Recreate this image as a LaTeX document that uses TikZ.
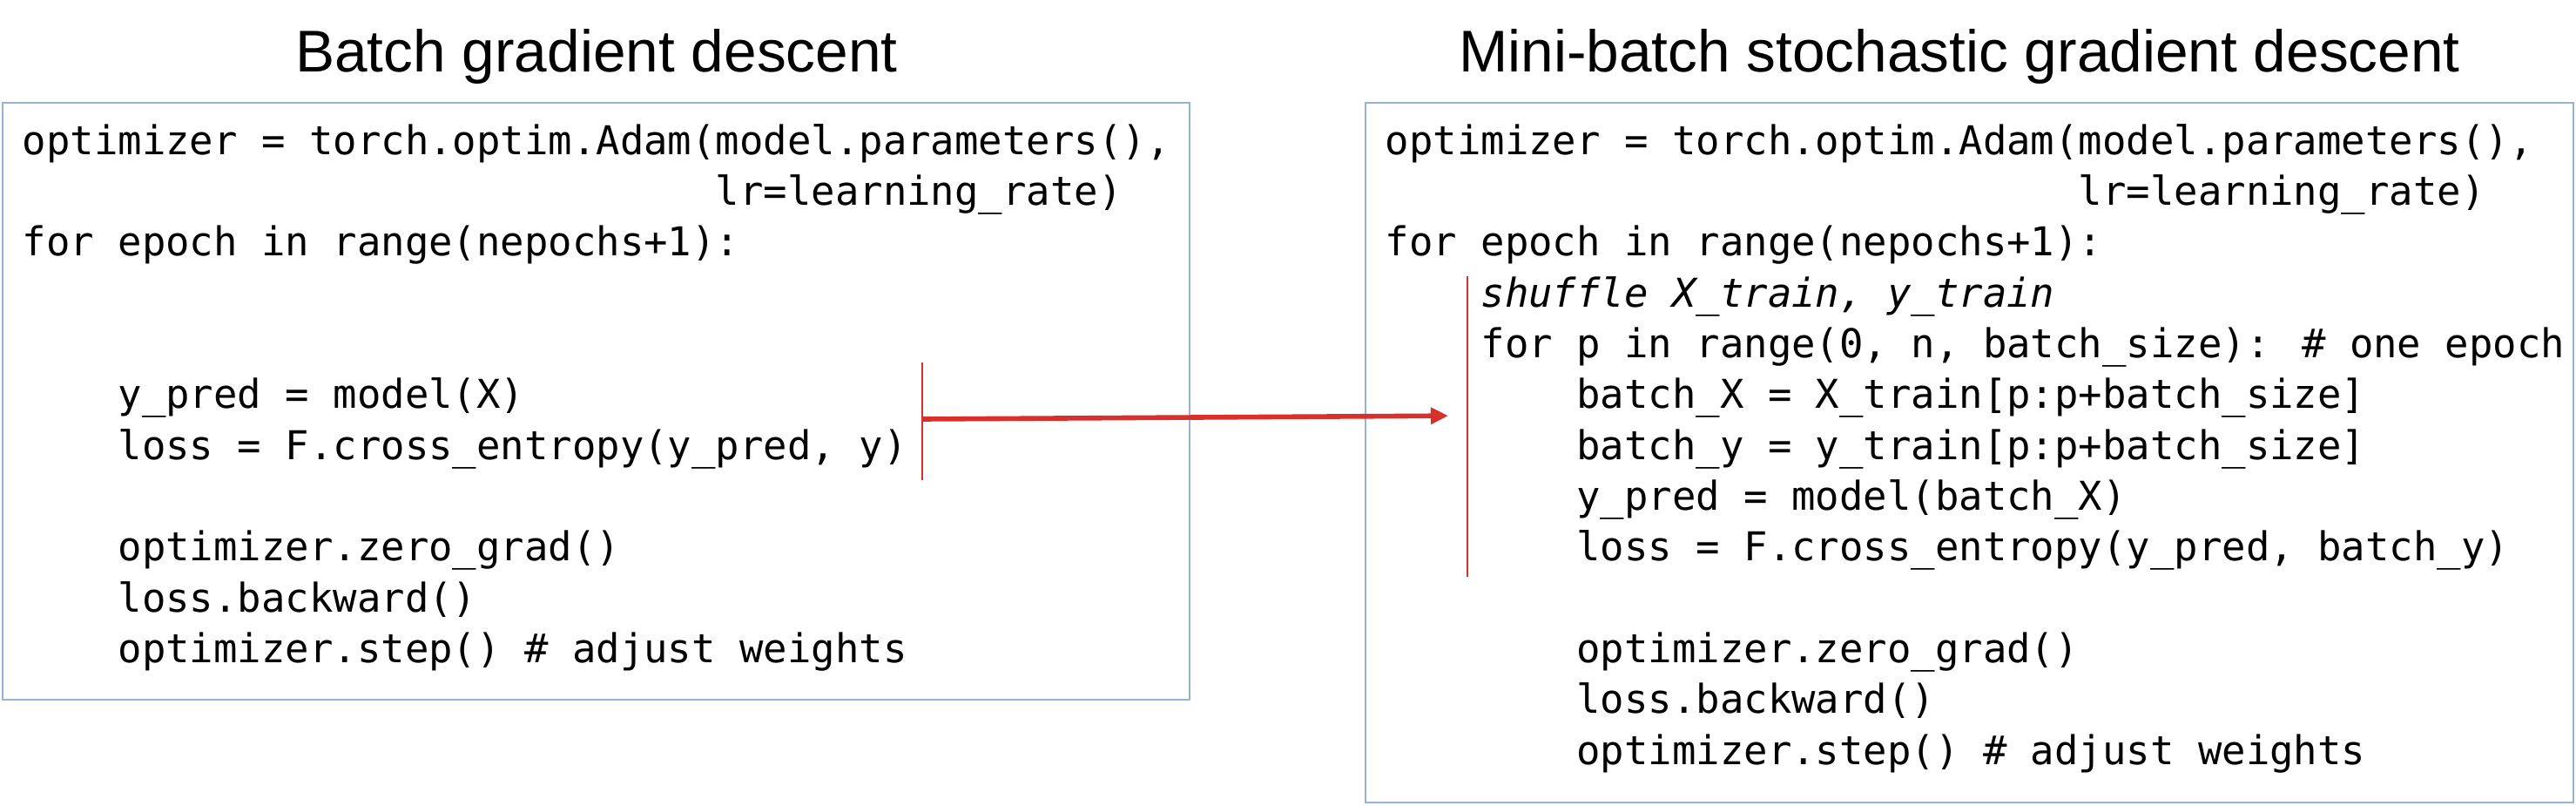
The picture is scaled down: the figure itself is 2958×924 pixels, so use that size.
\documentclass[tikz,border=0pt]{standalone}
\usepackage{fontspec}
\newfontfamily\codefont{DejaVu Sans Mono}
\newfontfamily\headfont{Liberation Sans}
\usetikzlibrary{arrows.meta}

\definecolor{boxblue}{HTML}{95B3D7}
\definecolor{markred}{HTML}{D8302A}
\newcommand{\cw}{27.45} % width of one code character

\tikzset{
  codeline/.style={anchor=base west,inner sep=0pt,
    font=\codefont\fontsize{11.4}{14}\selectfont},
  heading/.style={anchor=base,inner sep=0pt,
    font=\headfont\fontsize{16.9}{20}\selectfont},
  codebox/.style={draw=boxblue,line width=0.5pt},
  markbar/.style={draw=markred,line width=0.6pt},
}

\begin{document}
\begin{tikzpicture}[x=0.25pt,y=-0.25pt]
	\useasboundingbox (0,0) rectangle (2958,924);

	%% Corners of the two code boxes
	\coordinate (A1) at (3,118);    % batch, top left
	\coordinate (A2) at (1366,803); % batch, bottom right
	\coordinate (A3) at (1568,118); % mini-batch, top left
	\coordinate (A4) at (2955,921); % mini-batch, bottom right

	%% Boxes and titles
	\draw[codebox] (A1) rectangle (A2);
	\draw[codebox] (A3) rectangle (A4);
	\node[heading] (T1) at (685,82) {Batch gradient descent};
	\node[heading] (T2) at (2250,82) {Mini-batch stochastic gradient descent};

	%% Left code
	\node[codeline] (B1) at (25,177) {optimizer = torch.optim.Adam(model.parameters(),};
	\node[codeline] (B2) at (25+29*\cw,235) {lr=learning\_rate)};
	\node[codeline] (B3) at (25,293) {for epoch in range(nepochs+1):};
	\node[codeline] (B4) at (25+4*\cw,468) {y\_pred = model(X)};
	\node[codeline] (B5) at (25+4*\cw,527) {loss = F.cross\_entropy(y\_pred, y)};
	\node[codeline] (B6) at (25+4*\cw,643) {optimizer.zero\_grad()};
	\node[codeline] (B7) at (25+4*\cw,702) {loss.backward()};
	\node[codeline] (B8) at (25+4*\cw,760) {optimizer.step() \# adjust weights};

	%% Right code
	\node[codeline] (M1) at (1590,177) {optimizer = torch.optim.Adam(model.parameters(),};
	\node[codeline] (M2) at (1590+29*\cw,235) {lr=learning\_rate)};
	\node[codeline] (M3) at (1590,293) {for epoch in range(nepochs+1):};
	\node[codeline,font=\codefont\itshape\fontsize{11.4}{14}\selectfont] (M4)
	  at (1590+4*\cw,352) {shuffle X\_train, y\_train};
	\node[codeline] (M5) at (1590+4*\cw,410) {for p in range(0, n, batch\_size): \# one epoch};
	\node[codeline] (M6) at (1590+8*\cw,468) {batch\_X = X\_train[p:p+batch\_size]};
	\node[codeline] (M7) at (1590+8*\cw,527) {batch\_y = y\_train[p:p+batch\_size]};
	\node[codeline] (M8) at (1590+8*\cw,585) {y\_pred = model(batch\_X)};
	\node[codeline] (M9) at (1590+8*\cw,643) {loss = F.cross\_entropy(y\_pred, batch\_y)};
	\node[codeline] (M10) at (1590+8*\cw,760) {optimizer.zero\_grad()};
	\node[codeline] (M11) at (1590+8*\cw,818) {loss.backward()};
	\node[codeline] (M12) at (1590+8*\cw,877) {optimizer.step() \# adjust weights};

	%% Red bars and the arrow between them
	\coordinate (C1) at (1059,416);
	\coordinate (C2) at (1059,551);
	\coordinate (C3) at (1059,481); % arrow start on left bar
	\coordinate (C4) at (1685,317);
	\coordinate (C5) at (1685,662);
	\coordinate (C6) at (1685,477); % on right bar

	\draw[markbar] (C1) -- (C2);
	\draw[markbar] (C4) -- (C5);
	\draw[draw=markred,line width=1.4pt,shorten >=22*0.25pt,
	  -{Triangle[length=5pt,width=4.6pt]}] (C3) -- (C6);
\end{tikzpicture}
\end{document}
